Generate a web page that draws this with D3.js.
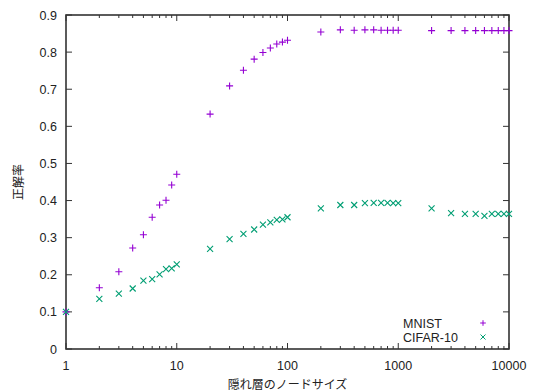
<!DOCTYPE html>
<html>
<head>
<meta charset="utf-8">
<script src="https://cdn.jsdelivr.net/npm/d3@7"></script>
<style>
  body { margin: 0; background: #fff; }
  svg { display: block; }
  text { font-family: "Liberation Sans", Arial, sans-serif; fill: #222; }
  .jp { font-family: "Noto Sans CJK JP", sans-serif; }
</style>
</head>
<body>
<script>
const sizes = [1, 2, 3, 4, 5, 6, 7, 8, 9, 10,
  20, 30, 40, 50, 60, 70, 80, 90, 100,
  200, 300, 400, 500, 600, 700, 800, 900, 1000,
  2000, 3000, 4000, 5000, 6000, 7000, 8000, 9000, 10000]

const mnist = [0.100, 0.165, 0.208, 0.272, 0.308, 0.355, 0.388, 0.401, 0.442, 0.471,
  0.633, 0.709, 0.751, 0.781, 0.799, 0.811, 0.822, 0.827, 0.832,
  0.854, 0.860, 0.859, 0.860, 0.860, 0.859, 0.859, 0.859, 0.859,
  0.858, 0.858, 0.858, 0.858, 0.858, 0.858, 0.858, 0.858, 0.858]

const cifar = [0.100, 0.135, 0.149, 0.163, 0.184, 0.188, 0.201, 0.215, 0.217, 0.228,
  0.270, 0.296, 0.310, 0.322, 0.335, 0.341, 0.348, 0.349, 0.355,
  0.379, 0.388, 0.388, 0.393, 0.394, 0.394, 0.394, 0.393, 0.393,
  0.379, 0.366, 0.364, 0.364, 0.359, 0.364, 0.364, 0.364, 0.364]

const series = [
  {name: "MNIST", values: mnist, color: "#9400d3", shape: "plus"},
  {name: "CIFAR-10", values: cifar, color: "#009e73", shape: "cross"}
]

const xTicks = [1, 10, 100, 1000, 10000]
const yTicks = [0, 0.1, 0.2, 0.3, 0.4, 0.5, 0.6, 0.7, 0.8, 0.9]

const width = 536
const height = 392
const margin = {top: 15, right: 27, bottom: 43, left: 66}

const svg = d3.select("body").append("svg")
  .attr("width", width)
  .attr("height", height)

const x = d3.scaleLog()
  .domain([1, 10000])
  .range([margin.left, width - margin.right])

const y = d3.scaleLinear()
  .domain([0, 0.9])
  .range([height - margin.bottom, margin.top])

const x0 = margin.left, x1 = width - margin.right
const y0 = height - margin.bottom, y1 = margin.top

// minor ticks on the log axis
const minor = []
for (let d = 1; d < 10000; d *= 10)
  for (let k = 2; k <= 9; k++) minor.push(d * k)

const ticks = svg.append("g").attr("stroke", "#333").attr("stroke-width", 1)

ticks.selectAll(".xmaj").data(xTicks).join("path")
  .attr("d", v => `M${x(v)},${y0}v-6M${x(v)},${y1}v6`)
ticks.selectAll(".xmin").data(minor).join("path")
  .attr("d", v => `M${x(v)},${y0}v-3M${x(v)},${y1}v3`)
ticks.selectAll(".ymaj").data(yTicks).join("path")
  .attr("d", v => `M${x0},${y(v)}h6M${x1},${y(v)}h-6`)

svg.append("rect")
  .attr("x", x0).attr("y", y1)
  .attr("width", x1 - x0).attr("height", y0 - y1)
  .attr("fill", "none").attr("stroke", "#333").attr("stroke-width", 1.6)

svg.append("g").selectAll("text").data(xTicks).join("text")
  .attr("x", v => x(v)).attr("y", y0 + 21)
  .attr("text-anchor", "middle")
  .attr("font-size", 12.5)
  .text(v => v)

svg.append("g").selectAll("text").data(yTicks).join("text")
  .attr("x", x0 - 9).attr("y", v => y(v) + 4.5)
  .attr("text-anchor", "end")
  .attr("font-size", 12.5)
  .text(v => v === 0 ? "0" : v.toFixed(1))

svg.append("text").attr("class", "jp")
  .attr("x", (x0 + x1) / 2).attr("y", height - 3)
  .attr("text-anchor", "middle").attr("font-size", 12)
  .text("隠れ層のノードサイズ")

svg.append("text").attr("class", "jp")
  .attr("transform", `translate(23,${(y0 + y1) / 2}) rotate(-90)`)
  .attr("text-anchor", "middle").attr("font-size", 12)
  .text("正解率")

function marker(g, shape, r) {
  return shape === "plus"
    ? `M${-r},0H${r}M0,${-r}V${r}`
    : `M${-r},${-r}L${r},${r}M${-r},${r}L${r},${-r}`
}

const plot = svg.append("g")
series.forEach(s => {
  plot.append("g")
    .attr("stroke", s.color).attr("stroke-width", 1.1).attr("fill", "none")
    .selectAll("path").data(s.values).join("path")
    .attr("transform", (v, i) => `translate(${x(sizes[i])},${y(v)})`)
    .attr("d", marker(null, s.shape, s.shape === "plus" ? 3.5 : 3))
})

// legend
const legend = svg.append("g")
series.forEach((s, i) => {
  const ly = 323 + i * 14
  legend.append("text")
    .attr("x", 403).attr("y", ly + 4.5)
    .attr("font-size", 12.5)
    .text(s.name)
  legend.append("path")
    .attr("transform", `translate(483,${ly})`)
    .attr("stroke", s.color).attr("stroke-width", 1).attr("fill", "none")
    .attr("d", marker(null, s.shape, s.shape === "plus" ? 2.8 : 2.5))
})
</script>
</body>
</html>
